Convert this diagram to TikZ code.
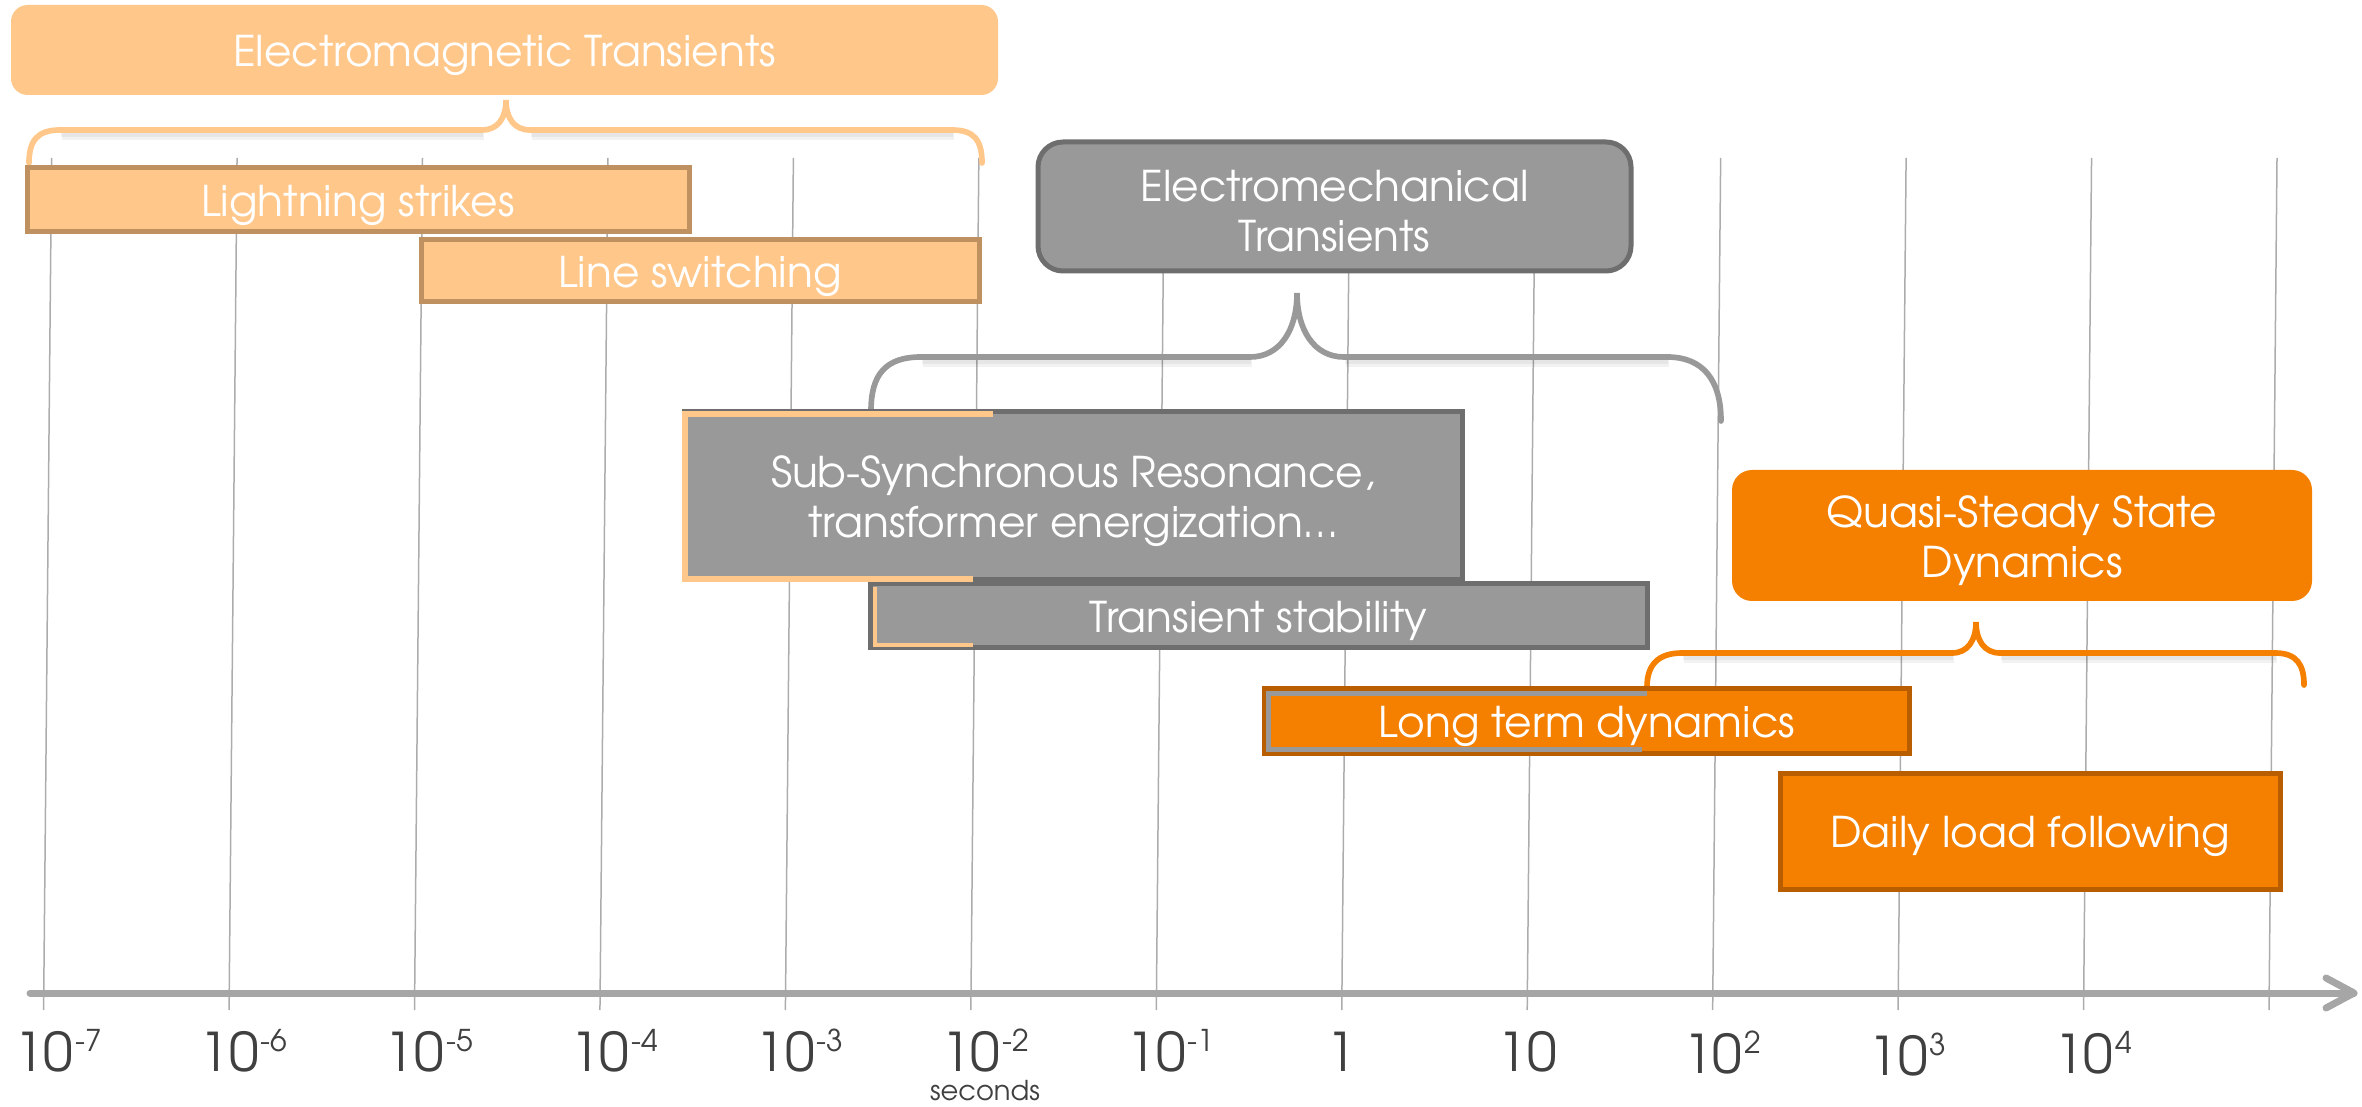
\documentclass[tikz,border=0pt]{standalone}
\usepackage{fontspec}
\setmainfont{TeX Gyre Adventor}
\definecolor{lor}{RGB}{255,199,138}
\definecolor{lorb}{RGB}{191,144,96}
\definecolor{gfill}{RGB}{153,153,153}
\definecolor{gbord}{RGB}{110,110,110}
\definecolor{ofill}{RGB}{245,128,0}
\definecolor{obord}{RGB}{184,93,0}
\definecolor{gridc}{RGB}{172,172,172}
\definecolor{axisc}{RGB}{166,166,166}
\definecolor{labc}{RGB}{64,64,64}
\newcommand{\lo}[1]{\raisebox{-1.5pt}[\height][\depth]{#1}}
\newcommand{\supx}[1]{\rlap{\raisebox{6pt}{\kern0.6pt\fontsize{9}{10}\selectfont #1}}}
\begin{document}
\begin{tikzpicture}[x=0.3pt,y=-0.3pt,
  bar/.style={rectangle, line width=1.5pt, text=white, align=center, inner sep=0pt,
    font=\fontsize{12.7}{15}\selectfont},
  lbar/.style={bar, fill=lor, draw=lorb},
  gbar/.style={bar, fill=gfill, draw=gbord},
  obar/.style={bar, fill=ofill, draw=obord},
  title/.style={bar, rounded corners=5pt},
  gridl/.style={draw=gridc, line width=0.45pt},
  axisl/.style={draw=axisc, line width=2.1pt, line cap=round, line join=round},
  brace/.style={line width=1.7pt, line cap=round},
  shadowb/.style={draw=black, opacity=0.05, line width=2.4pt},
  ticklab/.style={anchor=base, text=labc, inner sep=0pt, font=\fontsize{16}{17}\selectfont}
]
\useasboundingbox (0,0) rectangle (2362,1107);

% grid lines
\foreach \k in {0,...,12}
  \draw[gridl] ({43.6+185.45*\k},1010) -- ({51.6+185.45*\k},158);

% axis
\coordinate (ax0) at (30,993);
\coordinate (ax1) at (2354,993);
\coordinate (ah1) at (2326,978);
\coordinate (ah2) at (2326,1008);
\draw[axisl] (ax0) -- (ax1);
\draw[axisl] (ah1) -- (ax1) -- (ah2);

% tick labels
\node[ticklab] (l0) at (43.6,1071) {10\supx{-7}};
\node[ticklab] (l1) at (229.05,1071) {10\supx{-6}};
\node[ticklab] (l2) at (414.5,1071) {10\supx{-5}};
\node[ticklab] (l3) at (599.95,1071) {10\supx{-4}};
\node[ticklab] (l4) at (785.4,1071) {10\supx{-3}};
\node[ticklab] (l5) at (970.85,1071) {10\supx{-2}};
\node[ticklab] (l6) at (1156.3,1071) {10\supx{-1}};
\node[ticklab] (l7) at (1341.75,1071) {1};
\node[ticklab] (l8) at (1527.2,1071) {10};
\node[ticklab] (l9) at (1712.65,1073) {10\supx{2}};
\node[ticklab] (l10) at (1898.1,1075) {10\supx{3}};
\node[ticklab] (l11) at (2083.55,1073) {10\supx{4}};
\node[anchor=base, text=labc, inner sep=0pt, font=\fontsize{8.2}{9}\selectfont] (sec) at (985,1100) {seconds};

% braces (soft shadows first)
\begin{scope}[shift={(2,6)}]
\draw[shadowb] (60,130) -- (482,130) (530,130) -- (952,130);
\draw[shadowb] (921,357) -- (1250,357) (1344,357) -- (1667,357);
\draw[shadowb] (1682,653) -- (1952,653) (2000,653) -- (2275,653);
\end{scope}
\begin{scope}[shift={(1,3)}]
\draw[shadowb] (60,130) -- (482,130) (530,130) -- (952,130);
\draw[shadowb] (921,357) -- (1250,357) (1344,357) -- (1667,357);
\draw[shadowb] (1682,653) -- (1952,653) (2000,653) -- (2275,653);
\end{scope}
\draw[brace, draw=lor] (29,163) .. controls (29,140) and (38,130) .. (60,130) -- (482,130)
  .. controls (498,130) and (506,118) .. (506,100)
  .. controls (506,118) and (514,130) .. (530,130) -- (952,130)
  .. controls (974,130) and (982,140) .. (982,163);
\draw[brace, draw=gfill] (871,411) .. controls (871,375) and (885,357) .. (921,357) -- (1250,357)
  .. controls (1280,357) and (1297,330) .. (1297,293)
  .. controls (1297,330) and (1314,357) .. (1344,357) -- (1667,357)
  .. controls (1703,357) and (1721,380) .. (1721,421);
\draw[brace, draw=ofill] (1647,687) .. controls (1647,665) and (1658,653) .. (1682,653) -- (1952,653)
  .. controls (1968,653) and (1976,640) .. (1976,622)
  .. controls (1976,640) and (1984,653) .. (2000,653) -- (2275,653)
  .. controls (2297,653) and (2304,665) .. (2304,685);

% title boxes
\node[title, fill=lor, minimum width=296.1pt, minimum height=27pt] (emt) at (504.5,50) {\lo{Electromagnetic Transients}};
\node[title, fill=gfill, draw=gbord, rounded corners=7.5pt, minimum width=177.9pt, minimum height=38.7pt] (emech) at (1334.5,206.5) {\lo{Electromechanical}\\\lo{Transients}};
\node[title, fill=ofill, rounded corners=6pt, minimum width=174pt, minimum height=39.3pt] (qss) at (2022,535.5) {\lo{Quasi-Steady State}\\\lo{Dynamics}};

% bars
\node[lbar, minimum width=198.6pt, minimum height=19.2pt] (ls) at (358,200) {\lo{Lightning strikes}};
\node[lbar, minimum width=167.4pt, minimum height=18.6pt] (lsw) at (700,271) {\lo{Line switching}};
\node[gbar, minimum width=233.4pt, minimum height=50.4pt] (ssr) at (1073,496) {\lo{Sub-Synchronous Resonance,}\\\lo{transformer energization\dots}};
\node[gbar, minimum width=233.1pt, minimum height=19.2pt] (ts) at (1258.5,616) {\lo{Transient stability}};
\node[obar, minimum width=193.5pt, minimum height=19.5pt] (ltd) at (1586.5,721.5) {\lo{Long term dynamics}};
\node[obar, minimum width=150pt, minimum height=34.8pt] (dlf) at (2030,831) {\lo{Daily load following}};

% colour overlaps on bar borders
\draw[draw=lor, line width=1.7pt] (993,414) -- (685,414) -- (685,579) -- (973,579);
\draw[draw=lor, line width=1.4pt] (875,587) -- (875,645) -- (973,645);
\draw[draw=gfill, line width=1.5pt] (1647,694) -- (1268,694) -- (1268,750) -- (1642,750);
\end{tikzpicture}
\end{document}
